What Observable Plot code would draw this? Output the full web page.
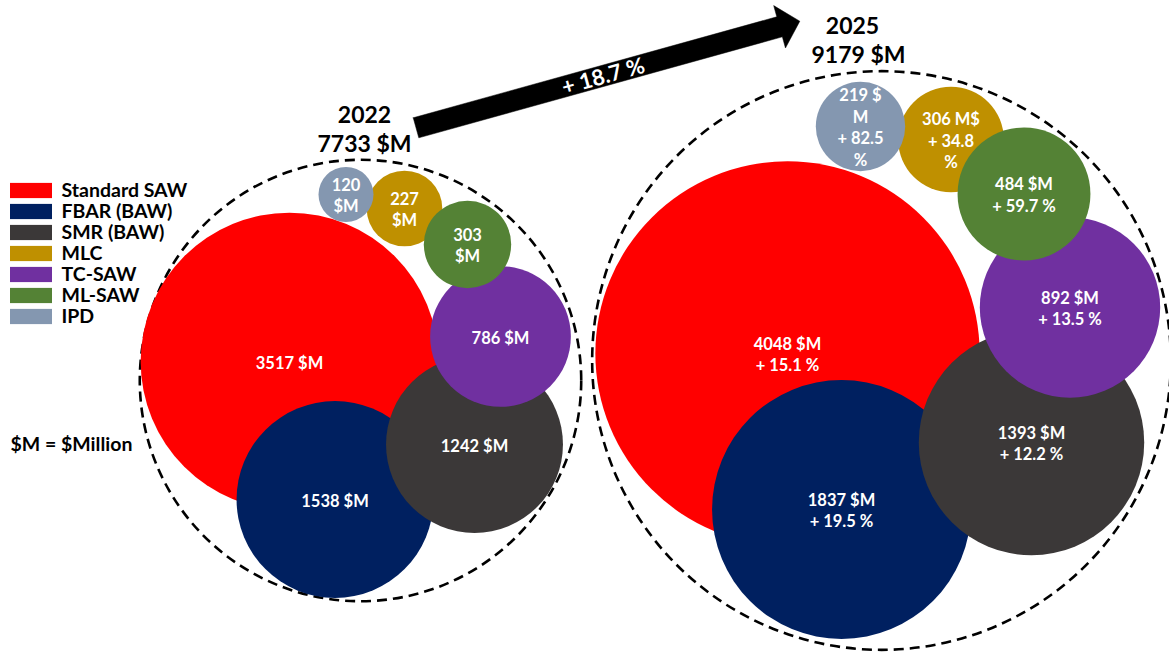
<!DOCTYPE html>
<html>
<head>
<meta charset="utf-8">
<script src="https://cdn.jsdelivr.net/npm/d3@7"></script>
<script src="https://cdn.jsdelivr.net/npm/@observablehq/plot@0.6"></script>
<style>
  html, body { margin: 0; padding: 0; background: #fff; }
  #chart { width: 1169px; height: 653px; overflow: hidden; }
</style>
</head>
<body>
<div id="chart"></div>
<script>
// ---------------- data ----------------
const categories = ["Standard SAW", "FBAR (BAW)", "SMR (BAW)", "MLC", "TC-SAW", "ML-SAW", "IPD"];
const values2022 = [3517, 1538, 1242, 227, 786, 303, 120];
const values2025 = [4048, 1837, 1393, 306, 892, 484, 219];
const growth2025 = [15.1, 19.5, 12.2, 34.8, 13.5, 59.7, 82.5];
const labels2022 = ["3517 $M", "1538 $M", "1242 $M", "227\n$M", "786 $M", "303\n$M", "120\n$M"];
const labels2025 = ["4048 $M\n+ 15.1 %", "1837 $M\n+ 19.5 %", "1393 $M\n+ 12.2 %", "306 M$\n+ 34.8\n%", "892 $M\n+ 13.5 %", "484 $M\n+ 59.7 %", "219 $\nM\n+ 82.5\n%"];
const years = [2022, 2025];
const totals = [7733, 9179];
const overallGrowth = "+ 18.7 %";
const legendNote = "$M = $Million";

// ---------------- styles / layout ----------------
const colors = ["#FF0000", "#002060", "#3B3838", "#BF9000", "#7030A0", "#548235", "#8497B0"];
const drawOrder = ["Standard SAW", "FBAR (BAW)", "SMR (BAW)", "TC-SAW", "MLC", "ML-SAW", "IPD"];
// radius per sqrt($M) in each cluster (pixels)
const sizeK = {2022: 2.51, 2025: 3.02};
// cluster (enclosing circle) centres
const clusterCenter = {2022: [360, 380], 2025: [881, 360]};
// bubble centres (packed layout)
const layout = {
  2022: {"Standard SAW": [289, 361], "FBAR (BAW)": [334.5, 499], "SMR (BAW)": [474, 444], "MLC": [404, 208],
         "TC-SAW": [500, 336], "ML-SAW": [467, 244], "IPD": [345.5, 194]},
  2025: {"Standard SAW": [787, 353], "FBAR (BAW)": [841, 509], "SMR (BAW)": [1031, 442], "MLC": [950.5, 139],
         "TC-SAW": [1069.5, 307], "ML-SAW": [1023.5, 193.5], "IPD": [860, 126]}
};
const titlePos = {2022: [364, 115, 144], 2025: [852, 26, 55]};

const W = 1169, H = 653;
const FONT = "Lato, 'Open Sans', sans-serif";

// ---------------- build tables ----------------
const bubbles = [];
years.forEach(year => {
  const vals = year === 2022 ? values2022 : values2025;
  const labs = year === 2022 ? labels2022 : labels2025;
  categories.forEach((c, i) => {
    const [x, y] = layout[year][c];
    bubbles.push({year, category: c, value: vals[i], label: labs[i], color: colors[i], x, y,
                  r: sizeK[year] * Math.sqrt(vals[i])});
  });
});
bubbles.sort((a, b) => a.year - b.year || drawOrder.indexOf(a.category) - drawOrder.indexOf(b.category));

const clusters = years.map((year, i) => ({
  year, total: totals[i],
  x: clusterCenter[year][0], y: clusterCenter[year][1],
  r: sizeK[year] * Math.sqrt(totals[i])
}));

const titles = [];
years.forEach((year, i) => {
  titles.push({x: titlePos[year][0], y: titlePos[year][1], text: String(year)});
  titles.push({x: titlePos[year][0] + (year === 2025 ? 6 : 0), y: titlePos[year][2], text: `${totals[i]} $M`});
});

const legend = categories.map((c, i) => ({category: c, color: colors[i], y: 190.5 + i * 21}));

// block arrow polygon
const tail = [415.5, 127.3], tip = [799.3, 20.7];
const shaftW = 20.8, headLen = 21, headW = 44;
const dx = tip[0] - tail[0], dy = tip[1] - tail[1], len = Math.hypot(dx, dy);
const ux = dx / len, uy = dy / len, nx = -uy, ny = ux;
const base = [tip[0] - ux * headLen, tip[1] - uy * headLen];
const P = (p, s) => ({x: p[0] + nx * s, y: p[1] + ny * s});
const arrowPoly = [P(tail, -shaftW / 2), P(base, -shaftW / 2), P(base, -headW / 2), {x: tip[0], y: tip[1]},
                   P(base, headW / 2), P(base, shaftW / 2), P(tail, shaftW / 2), P(tail, -shaftW / 2)];
const arrowAngle = Math.atan2(dy, dx) * 180 / Math.PI;
const arrowLabel = [{x: tail[0] + ux * len * 0.488, y: tail[1] + uy * len * 0.488 + 1, text: overallGrowth}];

const chart = Plot.plot({
  width: W,
  height: H,
  margin: 0,
  style: {fontFamily: FONT, background: "white"},
  x: {domain: [0, W], range: [0, W], axis: null},
  y: {domain: [0, H], range: [0, H], axis: null},
  r: {type: "identity"},
  marks: [
    // enclosing dashed circles
    Plot.dot(clusters, {x: "x", y: "y", r: "r", fill: "none", stroke: "black", strokeWidth: 2.6, strokeDasharray: "10,6", sort: null}),
    // bubbles
    Plot.dot(bubbles, {x: "x", y: "y", r: "r", fill: "color", stroke: "none", sort: null}),
    Plot.text(bubbles, {x: "x", y: "y", text: "label", fill: "white", fontWeight: "bold", fontSize: 16.5, lineHeight: 1.33}),
    // year titles
    Plot.text(titles, {x: "x", y: "y", text: "text", fill: "black", fontWeight: "bold", fontSize: 23}),
    // growth arrow
    Plot.line(arrowPoly, {x: "x", y: "y", fill: "black", stroke: "black", strokeWidth: 0.5}),
    Plot.text(arrowLabel, {x: "x", y: "y", text: "text", fill: "white", fontWeight: "bold", fontSize: 22, rotate: arrowAngle}),
    // legend
    Plot.rect(legend, {x1: 10, x2: 52, y1: d => d.y - 7.6, y2: d => d.y + 7.6, fill: "color"}),
    Plot.text(legend, {x: 61, y: "y", text: "category", textAnchor: "start", fill: "black", fontWeight: "bold", fontSize: 19.5}),
    Plot.text([legendNote], {x: 10, y: 444, text: d => d, textAnchor: "start", fill: "black", fontWeight: "bold", fontSize: 19.5})
  ]
});
document.getElementById("chart").appendChild(chart);
</script>
</body>
</html>
